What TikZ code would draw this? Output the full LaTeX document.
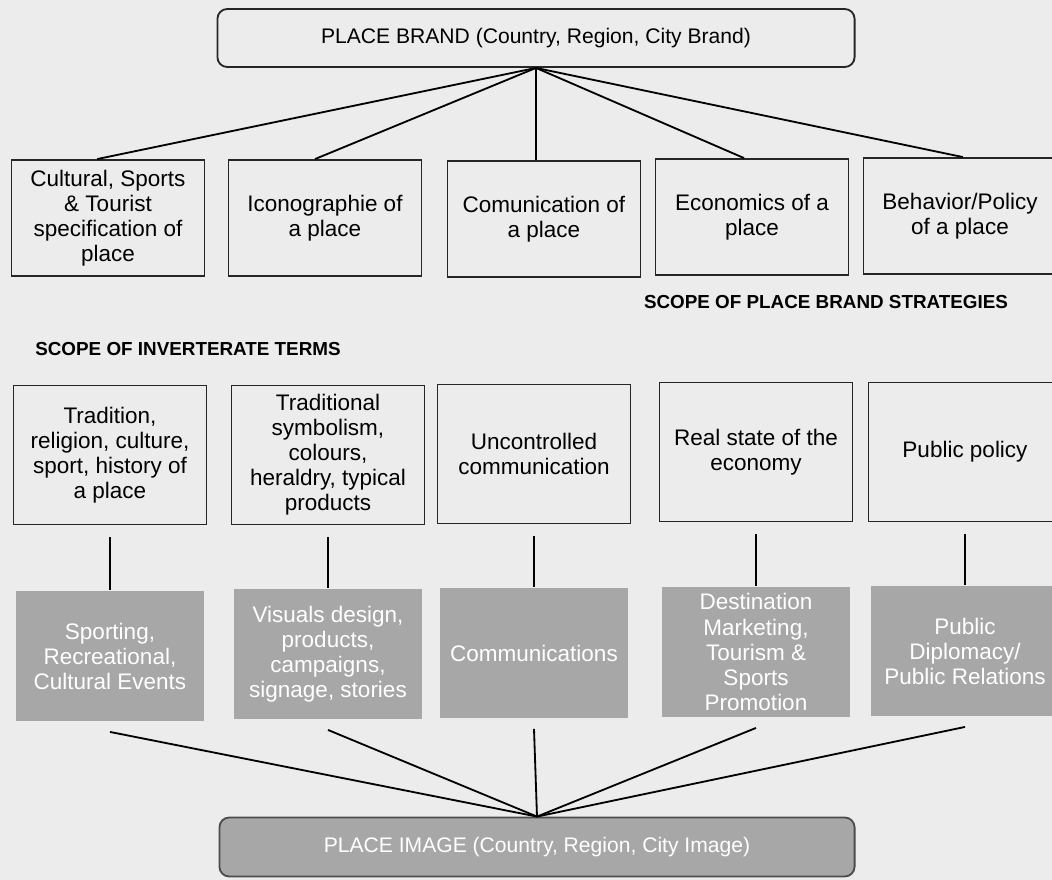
\documentclass[tikz,border=0pt]{standalone}
\usepackage{fontspec}
\setmainfont{Liberation Sans}
\definecolor{paper}{HTML}{ECECEC}
\definecolor{shade}{HTML}{A7A7A7}
\begin{document}
\begin{tikzpicture}[x=0.025cm, y=-0.025cm, line width=1.3pt,
    brandbox/.style ={rectangle, rounded corners=7pt, draw=black!85, minimum width=15.925cm, minimum height=1.45cm, font=\fontsize{15}{18}\selectfont},
    strategy/.style ={rectangle, draw=black!85, align=center, minimum width=4.825cm, minimum height=2.9cm, inner sep=2pt, font=\fontsize{16}{17.8}\selectfont},
    term/.style ={strategy, minimum height=3.475cm},
    tool/.style ={rectangle, fill=shade, text=white, align=center, minimum width=4.7cm, minimum height=3.25cm, inner sep=2pt, font=\fontsize{16}{17.8}\selectfont},
    imagebox/.style ={rectangle, rounded corners=7pt, draw=black!70, fill=shade, text=white, minimum width=15.875cm, minimum height=1.475cm, font=\fontsize{15}{18}\selectfont},
    scope/.style ={font=\fontsize{13.4}{16}\selectfont\bfseries}]
   \fill[paper] (0,0) rectangle (1052,880);
   \useasboundingbox (0,0) rectangle (1052,880);
   \node[brandbox] (brand) at (536,38) {PLACE BRAND (Country, Region, City Brand)};
   % place brand strategies
   \node[strategy] (s1) at (108,218) {Cultural, Sports\\ \& Tourist\\ specification of\\ place};
   \node[strategy] (s2) at (325,218) {Iconographie of\\ a place};
   \node[strategy] (s3) at (544,219) {Comunication of\\ a place};
   \node[strategy] (s4) at (752,217) {Economics of a\\ place};
   \node[strategy] (s5) at (960,216) {Behavior/Policy\\ of a place};
   \node[scope] (stratlabel) at (826,302) {SCOPE OF PLACE BRAND STRATEGIES};
   % inveterate terms
   \node[scope] (termlabel) at (188,349) {SCOPE OF INVERTERATE TERMS};
   \node[term] (t1) at (110,455) {Tradition,\\ religion, culture,\\ sport, history of\\ a place};
   \node[term] (t2) at (328,455) {Traditional\\ symbolism,\\ colours,\\ heraldry, typical\\ products};
   \node[term] (t3) at (534,454) {Uncontrolled\\ communication};
   \node[term] (t4) at (756,452) {Real state of the\\ economy};
   \node[term] (t5) at (965,452) {Public policy};
   % tools
   \node[tool] (g1) at (110,656) {Sporting,\\ Recreational,\\ Cultural Events};
   \node[tool] (g2) at (328,654) {Visuals design,\\ products,\\ campaigns,\\ signage, stories};
   \node[tool] (g3) at (534,653) {Communications};
   \node[tool] (g4) at (756,652) {Destination\\ Marketing,\\ Tourism \&\\ Sports\\ Promotion};
   \node[tool] (g5) at (965,651) {Public\\ Diplomacy/\\ Public Relations};
   \node[imagebox] (image) at (537,847) {PLACE IMAGE (Country, Region, City Image)};
   \draw (brand.south) to ([xshift=-0.27cm]s1.north);
   \draw (brand.south) to ([xshift=-0.25cm]s2.north);
   \draw (brand.south) to (s3.north -| brand.south);
   \draw (brand.south) to ([xshift=-0.2cm]s4.north);
   \draw (brand.south) to ([xshift=0.07cm]s5.north);
   \draw ([yshift=-0.3cm]t1.south) to (g1.north);
   \draw ([yshift=-0.3cm]t2.south) to (g2.north);
   \draw ([yshift=-0.3cm]t3.south) to (g3.north);
   \draw ([yshift=-0.3cm]t4.south) to (g4.north);
   \draw ([yshift=-0.3cm]t5.south) to (g5.north);
   \draw ([yshift=-0.25cm]g1.south) to (image.north);
   \draw ([yshift=-0.25cm]g2.south) to (image.north);
   \draw ([yshift=-0.25cm]g3.south) to (image.north);
   \draw ([yshift=-0.25cm]g4.south) to (image.north);
   \draw ([yshift=-0.25cm]g5.south) to (image.north);
 \end{tikzpicture}
\end{document}
